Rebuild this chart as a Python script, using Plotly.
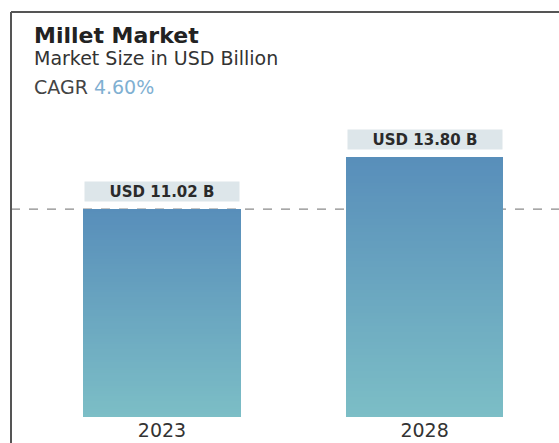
import plotly.graph_objects as go

# Market size (USD billion) by year
years = ["2023", "2028"]
market_size = [11.02, 13.80]
value_labels = ["USD 11.02 B", "USD 13.80 B"]

title = "Millet Market"
subtitle = "Market Size in USD Billion"
cagr = "4.60%"

W, H = 559, 443
left_px, right_px, top_px, bottom_px = 11, 559, 100, 417
FONT = "DejaVu Sans"

# vertical gradient for the bars: top colour -> bottom colour
top_rgb = (88, 142, 186)
bot_rgb = (124, 190, 198)
n_steps = 80


def mix(t):
    r = [round(top_rgb[i] + (bot_rgb[i] - top_rgb[i]) * t) for i in range(3)]
    return f"rgb({r[0]},{r[1]},{r[2]})"


fig = go.Figure()
# stack thin slices of each bar, bottom slice first, to build the gradient
for k in range(n_steps):
    t = 1 - (k + 0.5) / n_steps
    fig.add_trace(go.Bar(
        x=years,
        y=[v / n_steps for v in market_size],
        width=0.6,
        marker=dict(color=mix(t), line=dict(width=0)),
        hoverinfo="skip",
        showlegend=False,
    ))

plot_h = bottom_px - top_px
px_per_unit = 18.86
ymax = plot_h / px_per_unit


def py(ypx):
    return (bottom_px - ypx) / plot_h


def px(xpx):
    return (xpx - left_px) / (right_px - left_px)


# value callouts above each bar (category index used as x position)
for i, (v, lab) in enumerate(zip(market_size, value_labels)):
    fig.add_annotation(
        x=i, y=v, xref="x", yref="y", text=f"<b>{lab}</b>", showarrow=False,
        yanchor="bottom", yshift=7, width=150, height=15,
        bgcolor="#dde6ea", borderpad=2,
        font=dict(family=FONT, size=15, color="#2a2a2a"),
    )

# titles
fig.add_annotation(x=px(32), y=py(36), xref="paper", yref="paper", text=f"<b>{title}</b>",
                   showarrow=False, xanchor="left", yanchor="middle",
                   font=dict(family=FONT, size=22, color="#222222"))
fig.add_annotation(x=px(32), y=py(58), xref="paper", yref="paper", text=subtitle,
                   showarrow=False, xanchor="left", yanchor="middle",
                   font=dict(family=FONT, size=19, color="#333333"))
fig.add_annotation(x=px(32), y=py(87), xref="paper", yref="paper",
                   text=f"CAGR <span style='color:#7fb0d2'>{cagr}</span>",
                   showarrow=False, xanchor="left", yanchor="middle",
                   font=dict(family=FONT, size=19, color="#444444"))

# reference line at the first year's value
fig.add_shape(type="line", xref="paper", yref="y", x0=0, x1=1,
              y0=market_size[0], y1=market_size[0],
              line=dict(color="#8a8a8a", width=1.2, dash="dash"), layer="below")

# frame lines (top and left)
fig.add_shape(type="line", xref="paper", yref="paper", x0=0, x1=1.02, y0=py(12), y1=py(12),
              line=dict(color="#555555", width=2))
fig.add_shape(type="line", xref="paper", yref="paper", x0=0, x1=0, y0=py(12), y1=py(445),
              line=dict(color="#555555", width=2))

fig.update_layout(
    width=W, height=H,
    margin=dict(l=left_px, r=W - right_px, t=top_px, b=H - bottom_px),
    barmode="stack", bargap=0,
    plot_bgcolor="white", paper_bgcolor="white",
    xaxis=dict(type="category", range=[-0.575, 1.512], showgrid=False, zeroline=False,
               showline=False, ticks="", tickfont=dict(family=FONT, size=19, color="#333333")),
    yaxis=dict(range=[0, ymax], visible=False),
)

fig.write_html("out.html")
